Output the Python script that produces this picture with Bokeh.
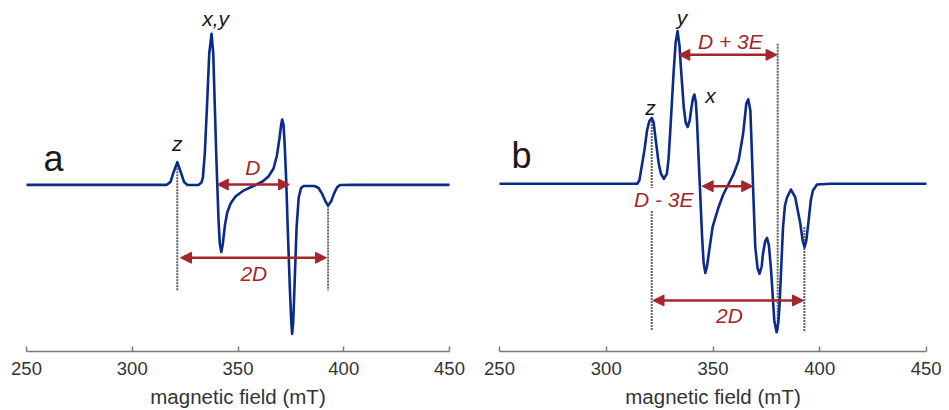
from bokeh.plotting import figure
from bokeh.models import Range1d, FixedTicker, Arrow, NormalHead, Label, ColumnDataSource
from bokeh.layouts import row
from bokeh.embed import file_html
from bokeh.resources import INLINE

# ---------------- data ----------------
TICKS = [250, 300, 350, 400, 450]
TICK_LABELS = ["250", "300", "350", "400", "450"]
X_LABEL = "magnetic field (mT)"

# panel a: axial triplet (E = 0)
A_FIELD = [250, 280, 300, 310, 316.2, 318.1, 319.5, 321.3, 323.0, 324.5, 326.1, 331.3, 332.7, 333.4,
           334.3, 335.4, 336.4, 337.5, 338.3, 339.0, 339.7, 340.2, 340.8, 341.4, 342.1, 342.8,
           343.8, 344.9, 346.5, 348.8, 352.6, 357.3, 361.6, 364.4, 366.8, 368.4, 369.6, 370.4,
           370.9, 371.5, 372.1, 372.8, 373.5, 374.5, 375.2, 375.6, 376.1, 376.7, 377.7, 378.7,
           379.8, 381.0, 386.2, 388.1, 389.7, 391.4, 392.6, 394.0, 395.4, 396.8, 398.2, 405, 420, 450]
A_SIGNAL = [0, 0, 0, 0, 0, 1.9, 8.2, 15.0, 8.2, 1.9, -0.1, -0.1, 1.5, 4.8,
            20.7, 53.8, 87.0, 100.0, 87.0, 53.8, 20.7, 0.2, -23.6, -38.9, -44.5, -39.5,
            -27.0, -18.3, -12.4, -7.7, -3.8, -0.8, 2.2, 5.5, 10.8, 19.4, 30.7, 39.9,
            43.2, 39.9, 26.0, 2.8, -28.3, -68.0, -91.2, -98.7, -91.2, -68.0, -28.3, -8.4,
            -2.1, -0.8, -0.8, -2.1, -5.8, -11.1, -13.7, -11.1, -5.8, -1.8, -0.1, 0, 0, 0]

# panel b: rhombic triplet (E != 0)
B_FIELD = [250, 280, 300, 310, 314.5, 315.5, 316.8, 318.0, 319.1, 320.2, 321.3, 322.2, 323.0, 324.6,
           325.6, 327.0, 328.4, 329.2, 330.0, 330.8, 331.6, 332.5, 333.4, 334.3, 334.9, 336.3,
           337.2, 338.1, 339.1, 339.9, 340.7, 341.3, 342.0, 342.5, 343.1, 343.8, 344.9, 345.6,
           346.4, 347.2, 348.0, 349.8, 352.6, 354.8, 357.2, 359.7, 362.0, 364.1, 365.6, 366.5,
           367.5, 367.9, 368.7, 369.8, 370.9, 371.8, 372.8, 373.4, 374.4, 375.3, 376.2, 377.2,
           378.7, 379.8, 380.6, 381.2, 382.8, 383.7, 384.7, 386.5, 388.5, 390.9, 392.0, 392.9,
           393.7, 394.8, 395.8, 396.8, 398.7, 405, 420, 450]
B_SIGNAL = [0, 0, 0, 0, 0, 2.2, 13.2, 23.4, 35.3, 41.6, 43.6, 40.6, 30.9, 13.2,
            6.8, 3.3, 6.6, 16.8, 35.3, 55.2, 75.0, 93.6, 101.1, 91.6, 78.3, 50.7,
            40.6, 37.6, 41.9, 50.5, 57.2, 59.1, 53.8, 41.9, 22.1, 0, -35.4, -52.1,
            -59.1, -54.8, -46.4, -28.7, -15.5, -7.1, -0.5, 6.6, 15.4, 33.1, 53.0, 56.0,
            48.5, 33.3, 0, -42.0, -56.1, -59.6, -54.8, -46.4, -38.2, -35.8, -40.9, -57.4,
            -90.5, -98.3, -91.9, -79.5, -28.7, -14.4, -8.9, -3.8, -8.9, -26.5, -37.6, -42.0,
            -37.6, -24.3, -11.1, -4.4, -0.5, 0, 0, 0]

# annotations (data units)
A_GUIDE_X = [321.3, 392.6]
A_GUIDE_TOP = [15.0, -13.7]
A_GUIDE_BOTTOM = [-70.0, -70.0]
A_ARROWS = [  # x_start, x_end, y, label, label_x, label_y
    (340.2, 374.3, 0.2, "D", 357.0, 11.7),
    (322.8, 391.8, -48.3, "2D", 357.5, -58.9),
]
A_TEXTS = [("z", 321.3, 27.2), ("x,y", 339.4, 109.9)]

B_GUIDE_X = [321.3, 380.3, 392.8]
B_GUIDE_TOP = [43.6, 92.7, -28.7]
B_GUIDE_BOTTOM = [-97.4, -97.4, -98.3]
B_ARROWS = [
    (334.0, 380.0, 85.4, "D + 3E", 358.1, 94.2),
    (344.9, 368.6, -1.6, "D - 3E", 326.9, -10.4),
    (321.9, 392.4, -77.3, "2D", 357.7, -87.2),
]
B_TEXTS = [("y", 335.5, 110.0), ("x", 348.8, 58.5), ("z", 320.7, 50.3)]

# ---------------- style ----------------
BLUE = "#0a2a8c"
RED = "#a3262b"
GUIDE = "#5f5f5f"
FONT = "Liberation Sans"


def make_panel(field, signal, ylo, yhi, fw, left, right, tag, tag_x, tag_y,
               gx, gtop, gbot, arrows, texts):
    p = figure(frame_width=fw, frame_height=343,
               x_range=Range1d(250, 450), y_range=Range1d(ylo, yhi),
               output_backend="svg", toolbar_location=None, y_axis_location=None,
               min_border_left=left, min_border_right=right,
               min_border_top=8, min_border_bottom=58)
    p.outline_line_color = None
    p.grid.visible = False
    p.background_fill_color = "white"
    p.border_fill_color = "white"

    ax = p.xaxis[0]
    ax.ticker = FixedTicker(ticks=TICKS)
    ax.major_label_overrides = {t: s for t, s in zip(TICKS, TICK_LABELS)}
    ax.axis_line_color = "#7a7a7a"
    ax.axis_line_width = 1.5
    ax.major_tick_line_color = "#7a7a7a"
    ax.major_tick_line_width = 1.5
    ax.major_tick_in = 5
    ax.major_tick_out = 0
    ax.minor_tick_line_color = None
    ax.major_label_text_font = FONT
    ax.major_label_text_font_size = "18.5px"
    ax.major_label_text_color = "#333333"
    ax.major_label_standoff = 10
    ax.axis_label = X_LABEL
    ax.axis_label_text_font = FONT
    ax.axis_label_text_font_size = "20.5px"
    ax.axis_label_text_font_style = "normal"
    ax.axis_label_text_color = "#333333"
    ax.axis_label_standoff = 7

    # guide lines
    p.segment(x0=gx, y0=gtop, x1=gx, y1=gbot, line_color=GUIDE, line_width=2,
              line_dash="2 1")

    # spectrum
    src = ColumnDataSource(dict(x=field, y=signal))
    p.line(x="x", y="y", source=src, line_color=BLUE, line_width=2.6,
           line_join="round", line_cap="round")

    for xs, xe, yy, lab, lx, ly in arrows:
        p.add_layout(Arrow(x_start=xs, y_start=yy, x_end=xe, y_end=yy,
                           line_color=RED, line_width=2.5,
                           start=NormalHead(size=11, fill_color=RED, line_color=RED, line_width=1),
                           end=NormalHead(size=11, fill_color=RED, line_color=RED, line_width=1)))
        bg = "white" if lab == "D - 3E" else None
        p.add_layout(Label(x=lx, y=ly, text=lab, text_font=FONT, text_font_size="21px",
                           text_font_style="italic", text_color=RED,
                           text_align="center", text_baseline="middle",
                           background_fill_color=bg))

    for lab, lx, ly in texts:
        p.add_layout(Label(x=lx, y=ly, text=lab, text_font=FONT, text_font_size="21px",
                           text_font_style="italic", text_color="#1a1a1a",
                           text_align="center", text_baseline="middle"))

    p.add_layout(Label(x=tag_x, y=tag_y, text=tag, text_font=FONT, text_font_size="36px",
                       text_color="#1a1a1a", text_align="center", text_baseline="middle"))
    return p


pa = make_panel(A_FIELD, A_SIGNAL, -110.4, 116.8, 423, 26, 25, "a", 262.8, 17.4,
                A_GUIDE_X, A_GUIDE_TOP, A_GUIDE_BOTTOM, A_ARROWS, A_TEXTS)
pb = make_panel(B_FIELD, B_SIGNAL, -111.1, 116.1, 427, 25, 15, "b", 260.3, 18.7,
                B_GUIDE_X, B_GUIDE_TOP, B_GUIDE_BOTTOM, B_ARROWS, B_TEXTS)

layout = row(pa, pb)
open("out.html", "w").write(file_html(layout, INLINE))
